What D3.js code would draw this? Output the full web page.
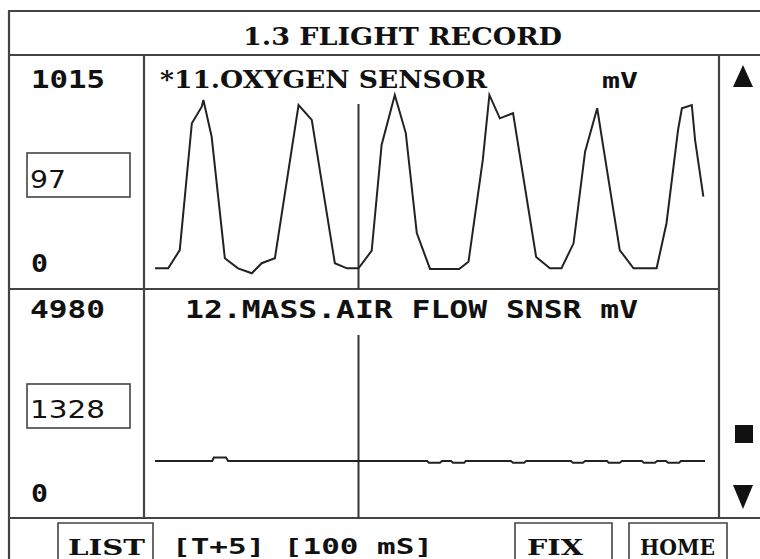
<!DOCTYPE html>
<html>
<head>
<meta charset="utf-8">
<script src="https://cdn.jsdelivr.net/npm/d3@7"></script>
<style>
  body { margin: 0; background: #fff; }
  text { font-family: "DejaVu Sans Mono", monospace; font-weight: bold; fill: #111; }
</style>
</head>
<body>
<svg id="canvas"></svg>
<script>
const width = 760;
const height = 559;

// Sample index (0..100 across the screen) and readings
const o2Time = [0, 2.4, 4.5, 6.7, 8.5, 8.8, 10.3, 12.7, 15.1, 17.6, 19.4, 21.8, 26.1, 28.5, 32.7, 34.9, 37.0,
    39.4, 41.2, 43.6, 45.6, 47.6, 50, 55.3, 57.0, 59.6, 60.8, 62.7, 65.1, 69.3, 71.8, 73.9, 76.1, 78.2,
    80.4, 81.5, 84.5, 87.0, 91.2, 93.0, 95.1, 95.8, 97.6, 98.2, 99.7];
const o2Values = [96, 96, 185, 804, 885, 917, 738, 145, 96, 72, 121, 145, 893, 820, 121, 96, 96,
    182, 698, 942, 756, 268, 93, 93, 128, 625, 942, 828, 853, 151, 96, 96, 218, 665,
    877, 690, 185, 96, 96, 316, 771, 877, 893, 722, 446];

const mafTime = [0, 10.4, 10.7, 12.9, 13.3, 49.5, 49.8, 51.8, 52.2, 53.8, 54.2, 56.2, 56.5, 64.7, 65.1,
    67.1, 67.5, 75.6, 76.0, 77.8, 78.2, 82.2, 82.5, 84.5, 84.9, 88.5, 88.9, 90.9, 91.3, 92.9, 93.3,
    95.3, 95.6, 100];
const mafValues = [1328, 1328, 1410, 1410, 1328, 1328, 1285, 1285, 1328, 1328, 1285, 1285, 1328, 1328, 1285,
    1285, 1328, 1328, 1285, 1285, 1328, 1328, 1285, 1285, 1328, 1328, 1285, 1285, 1328, 1328, 1285,
    1285, 1328, 1328];

const panelTitles = ["*11.OXYGEN SENSOR", "12.MASS.AIR FLOW SNSR mV"];
const scaleMax = [1015, 4980];
const scaleMin = [0, 0];
const cursorValues = [97, 1328];
const cursorTime = 37;
const buttons = ["LIST", "FIX", "HOME"];

const svg = d3.select("#canvas")
    .attr("width", width)
    .attr("height", height);

const x = d3.scaleLinear().domain([0, 100]).range([155, 705]);
const yTop = d3.scaleLinear().domain([0, scaleMax[0]]).range([288, 80]);
const yBot = d3.scaleLinear().domain([0, scaleMax[1]]).range([517, 307]);

const frame = svg.append("g")
    .attr("stroke", "#444")
    .attr("stroke-width", 2.2)
    .attr("fill", "none");

// outer frame and dividers
frame.append("path").attr("d", "M9,570 V11 H770");
frame.append("path").attr("d", "M9,55 H770");
frame.append("path").attr("d", "M9,518 H770");
frame.append("path").attr("d", "M9,289 H719");
frame.append("path").attr("d", "M144,55 V518");
frame.append("path").attr("d", "M719,55 V518");

// title
svg.append("text")
    .attr("x", 243).attr("y", 45)
    .attr("textLength", 319)
    .attr("lengthAdjust", "spacingAndGlyphs")
    .style("font-family", "'DejaVu Serif', serif")
    .style("font-size", "24px")
    .text("1.3 FLIGHT RECORD");

// panel texts
function label(txt, x0, y0, len, size = 24, family) {
    const t = svg.append("text")
        .attr("x", x0).attr("y", y0)
        .style("font-size", size + "px")
        .text(txt);
    if (len) t.attr("textLength", len).attr("lengthAdjust", "spacingAndGlyphs");
    if (family) t.style("font-family", family);
    return t;
}

label(panelTitles[0], 160, 88, 327, 24, "'DejaVu Serif', serif");
label("mV", 602, 88, 36, 22);
label(panelTitles[1], 185, 318, 453, 24);

label(String(scaleMax[0]), 31, 88, 74);
label(String(scaleMin[0]), 31, 272, 17);
label(String(scaleMax[1]), 30, 318, 75);
label(String(scaleMin[1]), 31, 502, 17);

// cursor value boxes
frame.append("rect").attr("x", 27).attr("y", 153).attr("width", 103).attr("height", 44).attr("stroke-width", 1.6);
frame.append("rect").attr("x", 27).attr("y", 384).attr("width", 103).attr("height", 44).attr("stroke-width", 1.6);
label(String(cursorValues[0]), 30, 188, 36, 24, "'DejaVu Sans', sans-serif").style("font-weight", "normal");
label(String(cursorValues[1]), 30, 418, 75, 24, "'DejaVu Sans', sans-serif").style("font-weight", "normal");

// cursor lines
svg.append("line")
    .attr("x1", x(cursorTime)).attr("x2", x(cursorTime))
    .attr("y1", 104).attr("y2", 289)
    .attr("stroke", "#333").attr("stroke-width", 2);
svg.append("line")
    .attr("x1", x(cursorTime)).attr("x2", x(cursorTime))
    .attr("y1", 335).attr("y2", 518)
    .attr("stroke", "#333").attr("stroke-width", 2);

// traces
const lineTop = d3.line().x(d => x(d[0])).y(d => yTop(d[1]));
const lineBot = d3.line().x(d => x(d[0])).y(d => yBot(d[1]));

svg.append("path")
    .datum(d3.zip(o2Time, o2Values))
    .attr("d", lineTop)
    .attr("fill", "none")
    .attr("stroke", "#222")
    .attr("stroke-width", 2);

svg.append("path")
    .datum(d3.zip(mafTime, mafValues))
    .attr("d", lineBot)
    .attr("fill", "none")
    .attr("stroke", "#222")
    .attr("stroke-width", 2);

// scroll symbols
svg.append("path").attr("d", "M743,65 L753,87 L733,87 Z").attr("fill", "#111");
svg.append("rect").attr("x", 735).attr("y", 425).attr("width", 18).attr("height", 18).attr("fill", "#111");
svg.append("path").attr("d", "M733,485 L753,485 L743,509 Z").attr("fill", "#111");

// bottom buttons
const btnBoxes = [[58, 153], [515, 612], [629, 727]];
const btnText = [[68, 77], [527, 56], [640, 75]];
buttons.forEach((b, i) => {
    frame.append("path")
        .attr("d", `M${btnBoxes[i][0]},570 V523 H${btnBoxes[i][1]} V570`)
        .attr("stroke-width", 1.6);
    label(b, btnText[i][0], 555, btnText[i][1], 23, "'DejaVu Serif', serif");
});
label("[T+5] [100 mS]", 172, 554, 261, 22);
</script>
</body>
</html>
